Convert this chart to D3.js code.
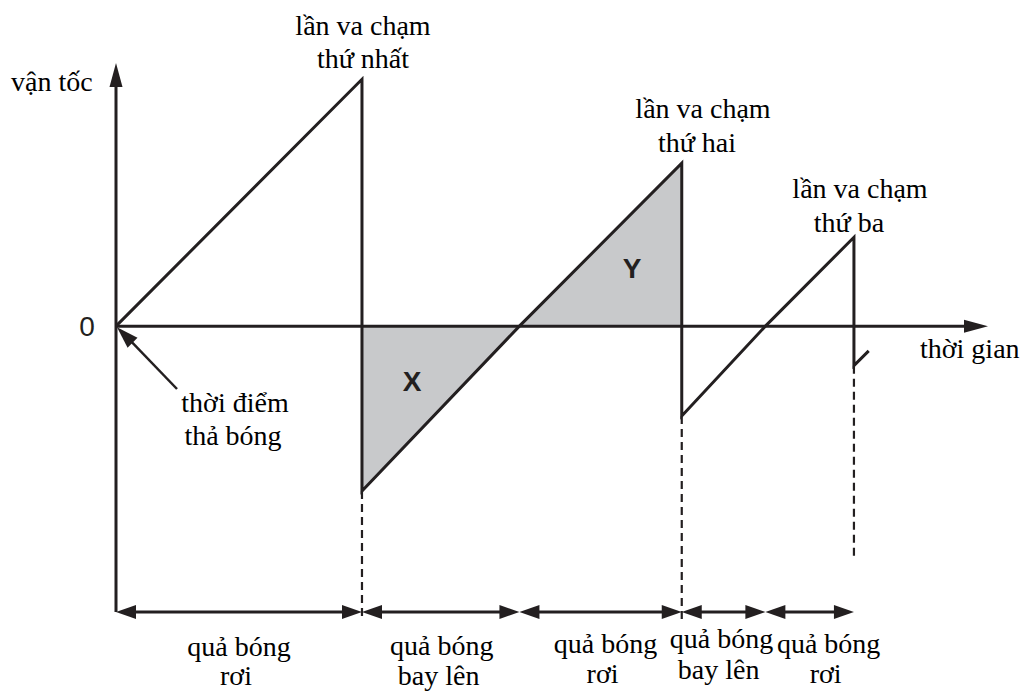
<!DOCTYPE html>
<html>
<head>
<meta charset="utf-8">
<script src="https://cdn.jsdelivr.net/npm/d3@7"></script>
<style>
  html, body { margin: 0; padding: 0; background: #fff; }
  svg { display: block; }
  .serif { font-family: "Liberation Serif", "Times New Roman", Tinos, "DejaVu Serif", serif; }
  .sans { font-family: "Liberation Sans", Arial, Helvetica, sans-serif; }
</style>
</head>
<body>
<svg id="chart" width="1023" height="692"></svg>
<script>
// ---- data ----
// velocity-time trace of a bouncing ball (time units, velocity units)
const traceTime = [0, 1.0, 1.0, 1.64, 2.30, 2.30, 2.64, 3.0, 3.0, 3.06];
const traceVel  = [0, 1.0, -0.668, 0, 0.66, -0.364, 0, 0.36, -0.16, -0.10];
// shaded areas
const areaXTime = [1.0, 1.0, 1.64];
const areaXVel  = [0, -0.668, 0];
const areaYTime = [1.64, 2.30, 2.30];
const areaYVel  = [0, 0.66, 0];
// collision instants (dashed guides) and how far down they reach
const impactTime = [1.0, 2.30, 3.0];
const impactFrom = [-0.668, -0.364, -0.16];
const impactTo   = [-1.183, -1.203, -0.948];
// phase intervals along the bottom
const phaseBounds = [0, 1.0, 1.64, 2.30, 2.64, 3.0];
const phaseLine1  = ["quả bóng", "quả bóng", "quả bóng", "quả bóng", "quả bóng"];
const phaseLine2  = ["rơi", "bay lên", "rơi", "bay lên", "rơi"];
// collision labels
const collisionLine1 = ["lần va chạm", "lần va chạm", "lần va chạm"];
const collisionLine2 = ["thứ nhất", "thứ hai", "thứ ba"];
const axisLabelY = "vận tốc";
const axisLabelX = "thời gian";
const zeroLabel = "0";
const releaseLabel = ["thời điểm", "thả bóng"];
const areaLabels = ["X", "Y"];

// ---- scales ----
const x = d3.scaleLinear().domain([0, 3.545]).range([116, 988]);
const y = d3.scaleLinear().domain([-1.15, 1.066]).range([610, 63]);
const yBottom = -1.158;

const svg = d3.select("#chart");
const ink = "#231f20";

function tri(tipX, tipY, dx, dy, len, half) {
  const n = Math.hypot(dx, dy); dx /= n; dy /= n;
  const bx = tipX - dx * len, by = tipY - dy * len;
  const px = -dy * half, py = dx * half;
  return `M${tipX},${tipY}L${bx + px},${by + py}L${bx - px},${by - py}Z`;
}
function serifText(tx, ty, str, anchor) {
  return svg.append("text").attr("class", "serif").attr("x", tx).attr("y", ty).text(str)
    .attr("text-anchor", anchor || "middle").attr("font-size", 28).attr("fill", "#000");
}

// shaded triangles
const poly = (ts, vs) => d3.line()(ts.map((t, i) => [x(t), y(vs[i])])) + "Z";
svg.append("path").attr("d", poly(areaXTime, areaXVel)).attr("fill", "#c8c9cb");
svg.append("path").attr("d", poly(areaYTime, areaYVel)).attr("fill", "#c8c9cb");

// dashed guides
impactTime.forEach((t, i) => {
  svg.append("line")
    .attr("x1", x(t)).attr("x2", x(t))
    .attr("y1", y(impactFrom[i])).attr("y2", y(impactTo[i]))
    .attr("stroke", ink).attr("stroke-width", 2.2)
    .attr("stroke-dasharray", "8,5");
});

// axes
svg.append("line")
  .attr("x1", x(0)).attr("x2", x(0))
  .attr("y1", y(yBottom)).attr("y2", y(1.066) + 10)
  .attr("stroke", ink).attr("stroke-width", 3);
svg.append("path").attr("d", tri(x(0), y(1.066), 0, -1, 24, 6.5)).attr("fill", ink);

svg.append("line")
  .attr("x1", x(0)).attr("x2", x(3.545) - 10)
  .attr("y1", y(0)).attr("y2", y(0))
  .attr("stroke", ink).attr("stroke-width", 3);
svg.append("path").attr("d", tri(x(3.545), y(0), 1, 0, 24, 6.5)).attr("fill", ink);

// trace
svg.append("path")
  .attr("d", d3.line()(traceTime.map((t, i) => [x(t), y(traceVel[i])])))
  .attr("fill", "none").attr("stroke", ink).attr("stroke-width", 3)
  .attr("stroke-linejoin", "miter");

// phase double arrows
const ya = y(yBottom);
for (let i = 0; i < phaseBounds.length - 1; i++) {
  const a = x(phaseBounds[i]), b = x(phaseBounds[i + 1]);
  svg.append("line").attr("x1", a + 8).attr("x2", b - 8).attr("y1", ya).attr("y2", ya)
    .attr("stroke", ink).attr("stroke-width", 3);
  svg.append("path").attr("d", tri(a, ya, -1, 0, 20, 7)).attr("fill", ink);
  svg.append("path").attr("d", tri(b, ya, 1, 0, 20, 7)).attr("fill", ink);
}

// phase labels
const phaseDx = [0, 1, 5, -2, 19];
const phaseBase1 = [656, 655, 653, 648, 653];
const phaseBase2 = [685, 685, 683, 679, 683];
for (let i = 0; i < phaseLine1.length; i++) {
  const cx = (x(phaseBounds[i]) + x(phaseBounds[i + 1])) / 2 + phaseDx[i];
  serifText(cx, phaseBase1[i], phaseLine1[i]);
  serifText(cx - 3, phaseBase2[i], phaseLine2[i]);
}

// collision labels
const colPos = [[363, 35, 363, 68], [703, 118, 697, 152], [860, 198, 849, 232]];
colPos.forEach((p, i) => {
  serifText(p[0], p[1], collisionLine1[i]);
  serifText(p[2], p[3], collisionLine2[i]);
});

// axis labels
serifText(11, 91, axisLabelY, "start");
serifText(920, 358, axisLabelX, "start");
svg.append("text").attr("class", "sans").attr("x", 87).attr("y", y(0) + 10).text(zeroLabel)
  .attr("text-anchor", "middle").attr("font-size", 28).attr("fill", ink);

// release pointer
svg.append("line").attr("x1", 177).attr("y1", 389).attr("x2", x(0) + 12).attr("y2", y(0) + 12)
  .attr("stroke", ink).attr("stroke-width", 2.5);
svg.append("path").attr("d", tri(x(0) + 1, y(0) + 1, -1, -1, 22, 7)).attr("fill", ink);
serifText(235, 412, releaseLabel[0]);
serifText(233, 445, releaseLabel[1]);

// area labels
svg.append("text").attr("class", "sans").attr("x", 412).attr("y", 391).text(areaLabels[0])
  .attr("text-anchor", "middle").attr("font-weight", "bold")
  .attr("font-size", 28).attr("fill", ink);
svg.append("text").attr("class", "sans").attr("x", 632).attr("y", 278).text(areaLabels[1])
  .attr("text-anchor", "middle").attr("font-weight", "bold")
  .attr("font-size", 28).attr("fill", ink);
</script>
</body>
</html>
